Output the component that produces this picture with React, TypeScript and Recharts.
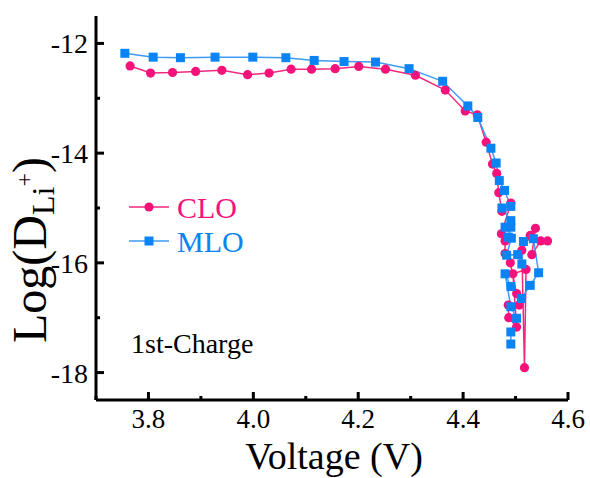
import React from "react";
import { LineChart, Line, XAxis, YAxis } from "recharts";

const cloVoltage = [3.765, 3.804, 3.846, 3.89, 3.94, 3.989, 4.03, 4.072, 4.111, 4.156, 4.201, 4.252, 4.309, 4.366, 4.404, 4.427, 4.444, 4.456, 4.464, 4.468, 4.474, 4.491, 4.473, 4.48, 4.48, 4.49, 4.502, 4.507, 4.486, 4.487, 4.502, 4.495, 4.52, 4.517, 4.512, 4.528, 4.538, 4.531, 4.548, 4.561];
const cloLogD = [-12.41, -12.54, -12.53, -12.51, -12.49, -12.57, -12.54, -12.47, -12.47, -12.46, -12.42, -12.47, -12.58, -12.85, -13.23, -13.3, -13.8, -14.2, -14.37, -14.72, -15.06, -14.91, -15.47, -15.6, -15.83, -16.0, -16.56, -16.77, -16.77, -17.0, -17.17, -16.2, -16.12, -17.91, -15.77, -15.5, -15.37, -15.85, -15.6, -15.6];

const mloVoltage = [3.755, 3.809, 3.861, 3.927, 3.999, 4.062, 4.116, 4.173, 4.233, 4.297, 4.361, 4.409, 4.428, 4.453, 4.463, 4.469, 4.479, 4.491, 4.474, 4.491, 4.48, 4.491, 4.486, 4.492, 4.483, 4.504, 4.512, 4.515, 4.534, 4.544, 4.528, 4.511, 4.491, 4.48, 4.491, 4.502, 4.491, 4.491];
const mloLogD = [-12.18, -12.25, -12.26, -12.25, -12.25, -12.26, -12.31, -12.33, -12.34, -12.46, -12.69, -13.14, -13.35, -13.91, -14.18, -14.5, -14.68, -14.97, -15.0, -15.23, -15.35, -15.35, -15.53, -15.55, -15.86, -15.85, -16.02, -15.61, -15.56, -16.18, -16.41, -16.65, -16.43, -16.2, -16.8, -17.01, -17.26, -17.48];

const xTicks = [3.7, 3.8, 3.9, 4.0, 4.1, 4.2, 4.3, 4.4, 4.5, 4.6];
const xMajor = [3.8, 4.0, 4.2, 4.4, 4.6];
const yTicks = [-18, -17, -16, -15, -14, -13, -12];
const yMajor = [-18, -16, -14, -12];

const cloData = cloVoltage.map((v, i) => ({ v, d: cloLogD[i] }));
const mloData = mloVoltage.map((v, i) => ({ v, d: mloLogD[i] }));

const FONT = "Liberation Serif, Times New Roman, Tinos, serif";
const PINK = "#f5137b";
const PINK_LINE = "#f0287f";
const BLUE = "#0a84f5";
const BLUE_LINE = "#3d9bf5";

const isMajor = (arr: number[], v: number) => arr.some((m) => Math.abs(m - v) < 1e-6);

const txtStyle = { fontFamily: FONT };

const XTick = (props: any) => {
  const { x, y, payload } = props;
  const major = isMajor(xMajor, payload.value);
  return (
    <g>
      <line x1={x} x2={x} y1={y} y2={y - (major ? 8 : 4)} stroke="#000" strokeWidth={3} />
      {major && (
        <text x={x} y={y + 28} textAnchor="middle" fontSize={27} style={txtStyle} fill="#000">
          {payload.value.toFixed(1)}
        </text>
      )}
    </g>
  );
};

const YTick = (props: any) => {
  const { x, y, payload } = props;
  const major = isMajor(yMajor, payload.value);
  return (
    <g>
      <line x1={x} x2={x + (major ? 8 : 4)} y1={y} y2={y} stroke="#000" strokeWidth={3} />
      {major && (
        <text x={x - 8} y={y + 10} textAnchor="end" fontSize={28} style={txtStyle} fill="#000">
          {String(payload.value)}
        </text>
      )}
    </g>
  );
};

const SquareDot = (props: any) => {
  const { cx, cy, index } = props;
  if (cx == null || cy == null) return <g key={`s${index}`} />;
  return <rect key={`s${index}`} x={cx - 4.5} y={cy - 4.5} width={9} height={9} fill={BLUE} />;
};

const CircleDot = (props: any) => {
  const { cx, cy, index } = props;
  if (cx == null || cy == null) return <g key={`c${index}`} />;
  return <circle key={`c${index}`} cx={cx} cy={cy} r={4.6} fill={PINK} />;
};

export default function App() {
  return (
    <div style={{ position: "absolute", left: 0, top: 0, width: 590, height: 478, background: "#fff" }}>
      <LineChart width={590} height={478} margin={{ top: 16, right: 22, bottom: 0, left: 0 }}>
        <XAxis
          xAxisId="main"
          type="number"
          dataKey="v"
          domain={[3.7, 4.6]}
          ticks={xTicks}
          interval={0}
          tickSize={0}
          tickMargin={0}
          tick={<XTick />}
          tickLine={false}
          height={78}
          axisLine={{ stroke: "#000", strokeWidth: 3 }}
          allowDataOverflow
        />
        <XAxis
          xAxisId="top"
          orientation="top"
          type="number"
          dataKey="v"
          domain={[3.7, 4.6]}
          height={0}
          tick={false}
          tickLine={false}
          axisLine={{ stroke: "#000", strokeWidth: 3 }}
        />
        <YAxis
          yAxisId="main"
          type="number"
          dataKey="d"
          domain={[-18.5, -11.5]}
          ticks={yTicks}
          interval={0}
          tickSize={0}
          tickMargin={0}
          tick={<YTick />}
          tickLine={false}
          width={96}
          axisLine={{ stroke: "#000", strokeWidth: 3 }}
          allowDataOverflow
        />
        <YAxis
          yAxisId="right"
          orientation="right"
          type="number"
          dataKey="d"
          domain={[-18.5, -11.5]}
          width={0}
          tick={false}
          tickLine={false}
          axisLine={{ stroke: "#000", strokeWidth: 3 }}
        />
        <Line
          xAxisId="main"
          yAxisId="main"
          data={cloData}
          dataKey="d"
          type="linear"
          stroke={PINK_LINE}
          strokeWidth={1.5}
          dot={CircleDot}
          activeDot={false}
          isAnimationActive={false}
        />
        <Line
          xAxisId="main"
          yAxisId="main"
          data={mloData}
          dataKey="d"
          type="linear"
          stroke={BLUE_LINE}
          strokeWidth={1.5}
          dot={SquareDot}
          activeDot={false}
          isAnimationActive={false}
        />
      </LineChart>
      <svg
        width={590}
        height={478}
        style={{ position: "absolute", left: 0, top: 0, pointerEvents: "none" }}
      >
        <line x1={129} x2={169} y1={207} y2={207} stroke={PINK_LINE} strokeWidth={1.5} />
        <circle cx={149} cy={207} r={4.6} fill={PINK} />
        <text x={177} y={218} fontSize={30} style={txtStyle} fill={PINK}>CLO</text>
        <line x1={129} x2={169} y1={241} y2={241} stroke={BLUE_LINE} strokeWidth={1.5} />
        <rect x={144.5} y={236.5} width={9} height={9} fill={BLUE} />
        <text x={177} y={252} fontSize={30} style={txtStyle} fill={BLUE}>MLO</text>
        <text x={131} y={353} fontSize={28} style={txtStyle} fill="#000">1st-Charge</text>
        <text x={334} y={469} textAnchor="middle" fontSize={38} style={txtStyle} fill="#000">Voltage (V)</text>
        <text transform="translate(46,250) rotate(-90)" textAnchor="middle" fontSize={48} style={txtStyle} fill="#000">
          Log(D<tspan fontSize={32} dy={8}>Li</tspan>
          <tspan fontSize={24} dy={-22}>+</tspan>
          <tspan fontSize={48} dy={14}>)</tspan>
        </text>
      </svg>
    </div>
  );
}
